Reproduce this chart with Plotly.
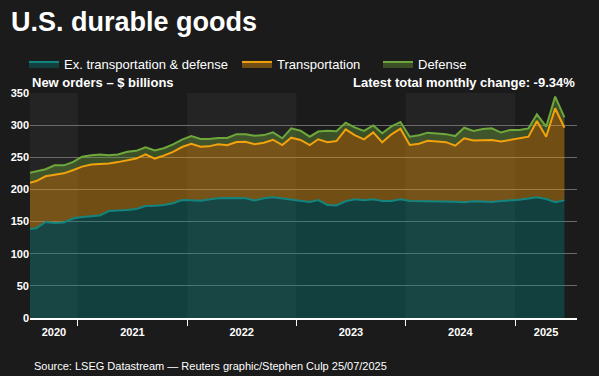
import plotly.graph_objects as go
import pandas as pd

# ---------------- data (monthly, Jul 2020 - Jun 2025), $ billions ----------------
months = [d.strftime("%Y-%m-15") for d in pd.date_range("2020-07-01", "2025-06-01", freq="MS")]

ex_transport_defense = [
    138.0, 139.5, 149.3, 147.8, 148.5, 154.8, 157.0, 158.7, 159.4, 166.4,
    167.0, 168.0, 169.5, 174.2, 174.5, 175.8, 178.4, 183.5, 183.0, 182.5,
    184.3, 186.2, 186.7, 186.2, 186.2, 183.0, 186.2, 187.7, 185.6, 184.3,
    182.5, 180.4, 183.5, 175.8, 175.0, 181.5, 184.6, 183.2, 184.6, 182.0,
    182.0, 184.6, 182.0, 182.0, 182.0, 182.0, 181.5, 180.9, 180.0, 181.5,
    181.2, 180.4, 182.0, 182.8, 183.9, 185.9, 187.7, 185.1, 180.0, 183.0,
]
transportation = [
    71.0, 73.5, 71.2, 75.2, 76.5, 75.0, 78.5, 79.9, 79.6, 74.1,
    75.5, 77.5, 78.5, 80.4, 73.5, 76.7, 80.1, 82.5, 88.0, 84.0,
    82.7, 84.0, 82.1, 87.6, 87.8, 87.2, 86.3, 89.6, 83.5, 96.2,
    94.4, 88.7, 94.5, 97.5, 100.3, 112.0, 99.9, 94.8, 104.2, 91.3,
    103.7, 109.9, 87.1, 89.1, 93.8, 92.5, 92.0, 87.1, 99.5, 94.5,
    94.8, 96.6, 92.5, 94.2, 95.6, 96.1, 118.7, 96.9, 146.2, 113.0,
]
defense = [
    16.0, 15.0, 11.0, 14.5, 12.5, 12.7, 15.5, 14.4, 15.5, 12.5,
    12.0, 13.0, 12.0, 10.9, 12.5, 11.5, 11.5, 11.5, 12.0, 12.0,
    11.5, 9.8, 11.2, 12.2, 12.0, 13.4, 12.0, 11.5, 10.4, 14.5,
    14.5, 12.9, 12.0, 17.9, 15.3, 10.3, 11.9, 13.0, 10.7, 14.0,
    12.3, 10.5, 12.9, 13.2, 12.5, 12.5, 12.5, 15.0, 16.5, 15.0,
    18.0, 18.0, 14.0, 15.4, 12.9, 13.0, 10.4, 15.6, 18.1, 16.1,
]
series_names = ["Ex. transportation & defense", "Transportation", "Defense"]
year_labels = ["2020", "2021", "2022", "2023", "2024", "2025"]

# ---------------- styles ----------------
BG = "#1b1b1b"
BAND = "#242424"
FONT = "Arial, Liberation Sans, sans-serif"
line_colors = ["#14847f", "#f2a20c", "#6ea73a"]
fill_colors = ["rgba(0,140,136,0.33)", "rgba(240,155,10,0.40)", "rgba(110,160,60,0.40)"]
legend_widths = [168, 96, None]

x_start = pd.Timestamp("2020-07-25")
x_end = pd.Timestamp("2025-07-27")

fig = go.Figure()
for name, vals, lc, fc, lw in zip(series_names,
                                  [ex_transport_defense, transportation, defense],
                                  line_colors, fill_colors, legend_widths):
    kw = dict(legendwidth=lw) if lw else {}
    fig.add_trace(go.Scatter(
        x=months, y=vals, name=name, mode="lines", stackgroup="one",
        line=dict(color=lc, width=2), fillcolor=fc, **kw))

# year bands, tick positions
year_starts = [pd.Timestamp(f"{y}-01-01") for y in range(2021, 2026)]
label_pos = []
for y in year_labels:
    a = max(x_start, pd.Timestamp(f"{y}-01-01"))
    b = min(x_end, pd.Timestamp(f"{int(y)+1}-01-01"))
    label_pos.append((a + (b - a) / 2).strftime("%Y-%m-%d %H:%M"))

shapes = []
for y in ["2020", "2022", "2024"]:
    a = max(x_start, pd.Timestamp(f"{y}-01-01"))
    b = min(x_end, pd.Timestamp(f"{int(y)+1}-01-01"))
    shapes.append(dict(type="rect", xref="x", yref="y", x0=a, x1=b, y0=0, y1=350,
                       fillcolor=BAND, line=dict(width=0), layer="below"))

fig.update_layout(
    width=599, height=376,
    margin=dict(l=30, r=22, t=93, b=58, autoexpand=False),
    paper_bgcolor=BG, plot_bgcolor=BG,
    font=dict(family=FONT, color="white"),
    shapes=shapes,
    showlegend=True,
    legend=dict(orientation="h", xref="container", yref="container",
                x=24 / 599, xanchor="left", y=1 - 64 / 376, yanchor="middle",
                font=dict(size=13, color="white"), bgcolor="rgba(0,0,0,0)",
                itemwidth=30, traceorder="normal"),
    xaxis=dict(type="date", range=[x_start, x_end], automargin=False,
               tickmode="array", tickvals=label_pos, ticktext=year_labels,
               ticks="", showgrid=False, zeroline=False,
               showline=True, linecolor="white", linewidth=1.5,
               tickfont=dict(size=11, color="white", weight="bold"),
               ticklabelstandoff=3,
               minor=dict(tickmode="array", tickvals=year_starts, ticks="outside",
                          ticklen=6, tickwidth=1, tickcolor="white", showgrid=False)),
    yaxis=dict(range=[0, 350], dtick=50, tick0=0, ticks="", automargin=False,
               showgrid=True, gridcolor="#6a6a6a", gridwidth=1,
               zeroline=False, showline=False,
               tickfont=dict(size=11, color="white", weight="bold")),
    annotations=[
        dict(text="U.S. durable goods", xref="paper", yref="paper",
             x=(9 - 30) / 547, y=(318 - 22) / 225, xanchor="left", yanchor="middle",
             showarrow=False, font=dict(size=27, color="white", weight="bold")),
        dict(text="New orders – $ billions", xref="paper", yref="paper",
             x=0, y=(318 - 82.5) / 225, xanchor="left", yanchor="middle",
             showarrow=False, font=dict(size=13, color="white", weight="bold")),
        dict(text="Latest total monthly change: -9.34%", xref="paper", yref="paper",
             x=1, y=(318 - 82.5) / 225, xanchor="right", yanchor="middle",
             showarrow=False, font=dict(size=13, color="white", weight="bold")),
        dict(text="Source: LSEG Datastream — Reuters graphic/Stephen Culp 25/07/2025",
             xref="paper", yref="paper",
             x=(32 - 30) / 547, y=(318 - 366) / 225, xanchor="left", yanchor="middle",
             showarrow=False, font=dict(size=11, color="white")),
    ],
)

fig.write_html("out.html", config={"displayModeBar": False},
               post_script="document.body.style.margin='0';document.body.style.background='#1b1b1b';")
